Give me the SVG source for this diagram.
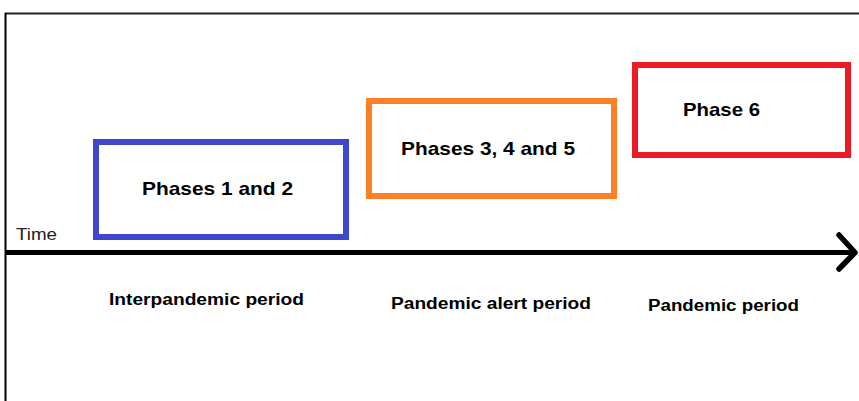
<svg xmlns="http://www.w3.org/2000/svg" width="859" height="401" viewBox="0 0 859 401">
<style>
.box{fill:#fff;stroke-width:6}
.lbl{font-family:"Liberation Sans",Arial,sans-serif;font-weight:bold;fill:#000}
</style>
<rect width="859" height="401" fill="#fff"/>
<g id="frame">
<line x1="5" y1="13.5" x2="859" y2="13.5" stroke="#222" stroke-width="2"/>
<line x1="5.5" y1="13" x2="5.5" y2="401" stroke="#000" stroke-width="2"/>
</g>
<g id="connectors">
<line x1="6" y1="252.5" x2="853" y2="252.5" stroke="#000" stroke-width="5"/>
<polyline points="839,235 855,252.5 839,269" fill="none" stroke="#000" stroke-width="5.5" stroke-linecap="round" stroke-linejoin="round"/>
</g>
<g id="time-label">
<text x="16" y="240" font-family="Liberation Sans,Arial,sans-serif" font-size="17" fill="#222" textLength="41" lengthAdjust="spacingAndGlyphs">Time</text>
</g>
<g id="phases12">
<rect class="box" x="96" y="142" width="250" height="95" stroke="#3f48cc"/>
<text class="lbl" x="142" y="195" font-size="19" textLength="151" lengthAdjust="spacingAndGlyphs">Phases 1 and 2</text>
</g>
<g id="phases345">
<rect class="box" x="369" y="101" width="245" height="95" stroke="#ff7f27"/>
<text class="lbl" x="401" y="155" font-size="19" textLength="174" lengthAdjust="spacingAndGlyphs">Phases 3, 4 and 5</text>
</g>
<g id="phase6">
<rect class="box" x="635" y="65" width="213" height="90" stroke="#ed1c24"/>
<text class="lbl" x="683" y="116" font-size="19" textLength="77" lengthAdjust="spacingAndGlyphs">Phase 6</text>
</g>
<g id="periods">
<text class="lbl" x="109" y="305" font-size="16" textLength="195" lengthAdjust="spacingAndGlyphs">Interpandemic period</text>
<text class="lbl" x="391" y="309" font-size="16" textLength="200" lengthAdjust="spacingAndGlyphs">Pandemic alert period</text>
<text class="lbl" x="648" y="311" font-size="16" textLength="151" lengthAdjust="spacingAndGlyphs">Pandemic period</text>
</g>
</svg>
